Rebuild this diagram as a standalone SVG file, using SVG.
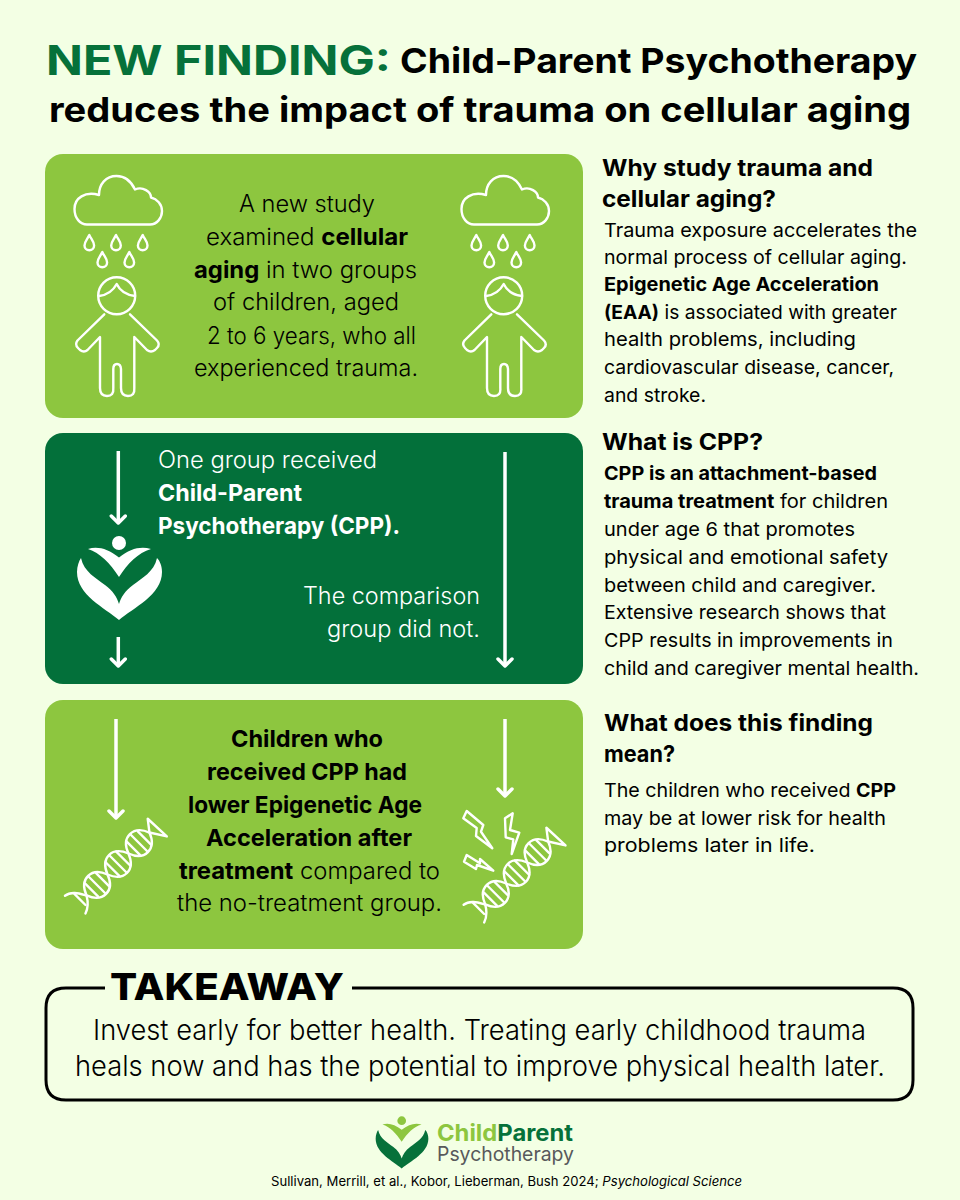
<svg xmlns="http://www.w3.org/2000/svg" xmlns:xlink="http://www.w3.org/1999/xlink" width="960" height="1200" viewBox="0 0 960 1200">
<style>
text{font-family:"Inter","Liberation Sans",sans-serif;fill:#000}
.h1{font-size:34.5px;font-weight:700}
.h1g{font-size:41px;font-weight:700;fill:#06713a}
.p{font-size:23.5px;font-weight:300}
.w{fill:#fff}
.hd{font-size:22.5px;font-weight:700}
.b{font-size:19px;font-weight:400}
.bd{font-weight:700}
.k{font-size:37px;font-weight:800}
.t{font-size:28px;font-weight:300}
.ln{fill:none;stroke:#fff;stroke-width:2.4;stroke-linecap:round;stroke-linejoin:round}
.ar{fill:none;stroke:#fff;stroke-width:3.5;marker-end:url(#head)}
</style>
<defs>
<marker id="head" markerUnits="userSpaceOnUse" markerWidth="20" markerHeight="18" refX="15" refY="9" orient="auto">
<path d="M8,2 L15,9 L8,16" fill="none" stroke="#fff" stroke-width="3.5" stroke-linecap="round" stroke-linejoin="round"/>
</marker>
<g id="rainchild" class="ln">
<path d="M87,224.5H150C157,224.5 162,218 162,211C162,204 157,199 151,197.5C151,192 143,186 135,189.5C131,181 124,176 116.5,176C106,176 99,184 99,195C85,191 74.5,198 74.5,209C74.5,218 80,224.5 87,224.5Z"/>
<path id="d" d="M89.3,235C87.5,239 84.5,241.5 84.5,245.5A4.8,4.8 0 0 0 94.1,245.5C94.1,241.5 91,239 89.3,235Z"/>
<use xlink:href="#d" href="#d" x="26.7"/><use xlink:href="#d" href="#d" x="53.4"/><use xlink:href="#d" href="#d" x="13" y="17"/><use xlink:href="#d" href="#d" x="40" y="17"/>
<circle cx="116.7" cy="295.7" r="18.5"/>
<path d="M99,296C107,295 113,291 116.7,284C120,291 127,295 135,296"/>
<path d="M104.3,314.3L77.5,340.5Q74.5,344.5 78,348L80,350Q84,353 87.5,350L100,337V388Q100,396 107,396T113.3,388V369Q113.3,364 117,364T121,369V388Q121,396 128,396T134.3,388V337L147,350Q151,353 155,350L157,348Q160.5,344.5 157,340.5L130,314.3"/>
</g>
<g id="dna" class="ln">
<path d="M-60,-15C-52,-14 -48,-6 -44.5,0C-38,17 -21,17 -14.85,0C-8,-17 8,-17 14.85,0C21,17 38,17 44.5,0L54,15L53,-11L44.5,0"/>
<path d="M-58,12C-52,10 -48,6 -44.5,0C-38,-17 -21,-17 -14.85,0C-8,17 8,17 14.85,0C21,-17 38,-17 44.5,0"/>
<path d="M-52,-10V6M-37,-9V9M-29.7,-12V12M-22,-9V9M-7.5,-10V10M0,-12V12M7.5,-10V10M22,-9V9M29.7,-12V12M37,-9V9"/>
</g>
</defs>
<rect width="960" height="1200" fill="#f3ffe4"/>
<g id="title">
<text x="46" y="75" class="h1g" textLength="345" lengthAdjust="spacingAndGlyphs">NEW FINDING:</text>
<text x="400" y="73" class="h1" textLength="517" lengthAdjust="spacingAndGlyphs">Child-Parent Psychotherapy</text>
<text x="49" y="122" class="h1" textLength="862" lengthAdjust="spacingAndGlyphs">reduces the impact of trauma on cellular aging</text>
</g>
<g id="panel-study">
<rect x="45" y="154" width="538" height="264" rx="18" fill="#8dc63f"/>
<use xlink:href="#rainchild" href="#rainchild"/>
<use xlink:href="#rainchild" href="#rainchild" x="387"/>
<text x="239" y="212" class="p" textLength="136" lengthAdjust="spacingAndGlyphs">A new study</text>
<text x="206" y="245" class="p" textLength="202" lengthAdjust="spacingAndGlyphs">examined <tspan class="bd">cellular</tspan></text>
<text x="194" y="278" class="p" textLength="223" lengthAdjust="spacingAndGlyphs"><tspan class="bd">aging</tspan> in two groups</text>
<text x="213" y="310" class="p" textLength="186" lengthAdjust="spacingAndGlyphs">of children, aged</text>
<text x="207" y="344" class="p" textLength="209" lengthAdjust="spacingAndGlyphs">2 to 6 years, who all</text>
<text x="194" y="376" class="p" textLength="224" lengthAdjust="spacingAndGlyphs">experienced trauma.</text>
</g>
<g id="panel-cpp">
<rect x="45" y="433" width="538" height="251" rx="18" fill="#03703a"/>
<g id="heart-white" fill="#fff">
<circle cx="119" cy="543" r="7"/>
<path d="M88,549C98,546 108,549 119,557.5C130,549 140,546 151,549C138,553 128,563 119,577C110,563 100,553 88,549Z"/>
<path d="M119,620C105,608 77,595 77,572C77,566 79,561 81,558C84,572 96,578 105,585C113,591 117,597 119,604C121,597 125,591 133,585C142,578 154,572 157,558C160,561 162,566 162,572C162,595 133,608 119,620Z"/>
</g>
<text x="158" y="468" class="p w" textLength="219" lengthAdjust="spacingAndGlyphs">One group received</text>
<text x="158" y="501" class="p w bd" textLength="144" lengthAdjust="spacingAndGlyphs">Child-Parent</text>
<text x="158" y="534" class="p w bd" textLength="242" lengthAdjust="spacingAndGlyphs">Psychotherapy (CPP).</text>
<text x="303" y="604" class="p w" textLength="177" lengthAdjust="spacingAndGlyphs">The comparison</text>
<text x="327" y="637" class="p w" textLength="153" lengthAdjust="spacingAndGlyphs">group did not.</text>
</g>
<g id="panel-result">
<rect x="45" y="700" width="538" height="249" rx="18" fill="#8dc63f"/>
<use xlink:href="#dna" href="#dna" transform="translate(118 864) rotate(-45)"/>
<use xlink:href="#dna" href="#dna" transform="translate(516.7 873) rotate(-45)"/>
<g id="bolts" class="ln">
<path d="M463.3,818.3L466.7,811L483.3,825L481,831.7L492.3,848.3L476,836L476.7,828Z"/>
<path d="M505,818.3L512.7,813.3L510,830L519.3,832.7L511.7,854L513.3,839.3L505.7,837.3Z"/>
<path d="M464,861.7L466.7,855L480,863.3L480,859L493.3,870.7L477,865L476,869Z"/>
</g>
<text x="231" y="747" class="p bd" textLength="152" lengthAdjust="spacingAndGlyphs">Children who</text>
<text x="207" y="780" class="p bd" textLength="200" lengthAdjust="spacingAndGlyphs">received CPP had</text>
<text x="188" y="813" class="p bd" textLength="234" lengthAdjust="spacingAndGlyphs">lower Epigenetic Age</text>
<text x="206" y="846" class="p bd" textLength="206" lengthAdjust="spacingAndGlyphs">Acceleration after</text>
<text x="179" y="879" class="p" textLength="261" lengthAdjust="spacingAndGlyphs"><tspan class="bd">treatment</tspan> compared to</text>
<text x="177" y="911" class="p" textLength="265" lengthAdjust="spacingAndGlyphs">the no-treatment group.</text>
</g>
<g id="connectors">
<path class="ar" d="M118.3,451V523"/>
<path class="ar" d="M118.3,637V666"/>
<path class="ar" d="M505,452V666"/>
<path class="ar" d="M116,719V818"/>
<path class="ar" d="M505,719V796"/>
</g>
<g id="why">
<text x="602" y="176" class="hd" textLength="271" lengthAdjust="spacingAndGlyphs">Why study trauma and</text>
<text x="602" y="207" class="hd" textLength="174" lengthAdjust="spacingAndGlyphs">cellular aging?</text>
<text x="604" y="237" class="b" textLength="313" lengthAdjust="spacingAndGlyphs">Trauma exposure accelerates the</text>
<text x="604" y="264" class="b" textLength="303" lengthAdjust="spacingAndGlyphs">normal process of cellular aging.</text>
<text x="604" y="291" class="b bd" textLength="275" lengthAdjust="spacingAndGlyphs">Epigenetic Age Acceleration</text>
<text x="604" y="319" class="b" textLength="293" lengthAdjust="spacingAndGlyphs"><tspan class="bd">(EAA)</tspan> is associated with greater</text>
<text x="604" y="346" class="b" textLength="252" lengthAdjust="spacingAndGlyphs">health problems, including</text>
<text x="604" y="374" class="b" textLength="290" lengthAdjust="spacingAndGlyphs">cardiovascular disease, cancer,</text>
<text x="604" y="402" class="b" textLength="102" lengthAdjust="spacingAndGlyphs">and stroke.</text>
</g>
<g id="what-cpp">
<text x="602" y="450" class="hd" textLength="161" lengthAdjust="spacingAndGlyphs">What is CPP?</text>
<text x="604" y="480" class="b bd" textLength="273" lengthAdjust="spacingAndGlyphs">CPP is an attachment-based</text>
<text x="604" y="508" class="b" textLength="284" lengthAdjust="spacingAndGlyphs"><tspan class="bd">trauma treatment</tspan> for children</text>
<text x="604" y="536" class="b" textLength="251" lengthAdjust="spacingAndGlyphs">under age 6 that promotes</text>
<text x="604" y="564" class="b" textLength="284" lengthAdjust="spacingAndGlyphs">physical and emotional safety</text>
<text x="604" y="592" class="b" textLength="272" lengthAdjust="spacingAndGlyphs">between child and caregiver.</text>
<text x="604" y="619" class="b" textLength="282" lengthAdjust="spacingAndGlyphs">Extensive research shows that</text>
<text x="604" y="647" class="b" textLength="289" lengthAdjust="spacingAndGlyphs">CPP results in improvements in</text>
<text x="604" y="675" class="b" textLength="315" lengthAdjust="spacingAndGlyphs">child and caregiver mental health.</text>
</g>
<g id="meaning">
<text x="604" y="731" class="hd" textLength="269" lengthAdjust="spacingAndGlyphs">What does this finding</text>
<text x="604" y="762" class="hd" textLength="71" lengthAdjust="spacingAndGlyphs">mean?</text>
<text x="604" y="797" class="b" textLength="292" lengthAdjust="spacingAndGlyphs">The children who received <tspan class="bd">CPP</tspan></text>
<text x="604" y="825" class="b" textLength="282" lengthAdjust="spacingAndGlyphs">may be at lower risk for health</text>
<text x="604" y="852" class="b" textLength="211" lengthAdjust="spacingAndGlyphs">problems later in life.</text>
</g>
<g id="takeaway">
<path d="M105,988H66Q46,988 46,1008V1080Q46,1100 66,1100H893Q913,1100 913,1080V1008Q913,988 893,988H352" fill="none" stroke="#000" stroke-width="3"/>
<text x="110" y="1000" class="k" textLength="234" lengthAdjust="spacingAndGlyphs">TAKEAWAY</text>
<text x="93" y="1040" class="t" textLength="773" lengthAdjust="spacingAndGlyphs">Invest early for better health. Treating early childhood trauma</text>
<text x="75" y="1076" class="t" textLength="810" lengthAdjust="spacingAndGlyphs">heals now and has the potential to improve physical health later.</text>
</g>
<g id="logo">
<g transform="translate(401.7 1120.7) scale(.62) translate(-119 -543)">
<circle cx="119" cy="543" r="7" fill="#8dc63f"/>
<path fill="#8dc63f" d="M88,549C98,546 108,549 119,557.5C130,549 140,546 151,549C138,553 128,563 119,577C110,563 100,553 88,549Z"/>
<path fill="#06713a" d="M119,620C105,608 77,595 77,572C77,566 79,561 81,558C84,572 96,578 105,585C113,591 117,597 119,604C121,597 125,591 133,585C142,578 154,572 157,558C160,561 162,566 162,572C162,595 133,608 119,620Z"/>
</g>
<text x="437" y="1141" font-size="23" class="bd" textLength="136" lengthAdjust="spacingAndGlyphs"><tspan style="fill:#8dc63f">Child</tspan><tspan style="fill:#06713a">Parent</tspan></text>
<text x="437" y="1161" font-size="20" style="fill:#58595b" textLength="137" lengthAdjust="spacingAndGlyphs">Psychotherapy</text>
</g>
<text id="citation" x="271" y="1186" font-size="13" textLength="471" lengthAdjust="spacingAndGlyphs">Sullivan, Merrill, et al., Kobor, Lieberman, Bush 2024; <tspan font-style="italic">Psychological Science</tspan></text>
</svg>
